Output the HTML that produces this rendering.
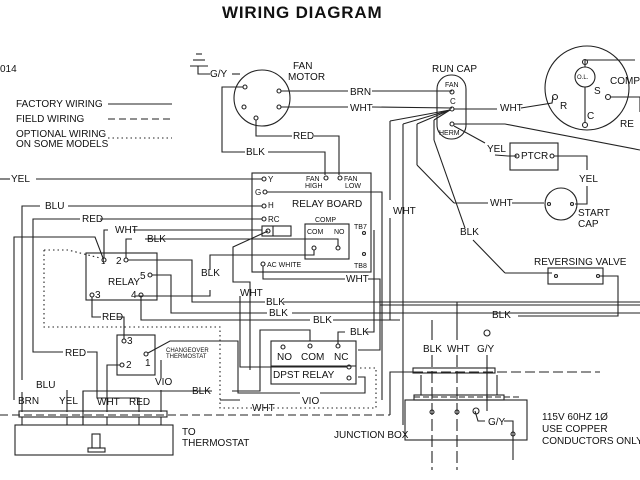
<!DOCTYPE html>
<html><head><meta charset="utf-8"><style>
html,body{margin:0;padding:0;background:#fff;width:640px;height:480px;overflow:hidden}
svg{display:block}
text{font-family:"Liberation Sans",sans-serif;font-size:10px;fill:#111}
</style></head><body>
<svg width="640" height="480" viewBox="0 0 640 480" xmlns="http://www.w3.org/2000/svg">
<g fill="none" stroke="#222" stroke-width="1.1">
<line x1="108" y1="104" x2="172" y2="104"/>
<line x1="108" y1="119" x2="172" y2="119" stroke-dasharray="7,4"/>
<line x1="108" y1="138" x2="172" y2="138" stroke-dasharray="1.5,3"/>
<line x1="196" y1="54" x2="202" y2="54"/><line x1="193" y1="60" x2="205" y2="60"/><line x1="190" y1="66" x2="208" y2="66"/>
<polyline points="198,66 198,74 210,74"/><line x1="232" y1="74" x2="240" y2="74"/>
<circle cx="262" cy="98" r="28"/>
<circle cx="245" cy="87" r="2"/><circle cx="244" cy="107" r="2"/><circle cx="279" cy="91" r="2"/><circle cx="279" cy="107" r="2"/><circle cx="256" cy="118" r="2"/>
<polyline points="243,87 222,87 222,152 245,152"/><polyline points="268,152 325,152 325,175"/>
<polyline points="256,120 256,136 292,136"/><polyline points="314,136 339,136 339,175"/>
<polyline points="281,91 348,91"/><polyline points="372,91 452,91"/>
<polyline points="281,107 348,107"/><polyline points="372,107 452,108"/>
<rect x="437" y="75" width="29" height="64" rx="14"/>
<circle cx="452" cy="92" r="2"/><circle cx="452" cy="109" r="2"/><circle cx="452" cy="124" r="2"/>
<polyline points="454,109 497,109"/><polyline points="521,108 552,103 553,97"/>
<polyline points="454,124 505,124 640,150"/>
<polyline points="454,126 485,143"/><polyline points="495,155 508,156 517,156"/>
<line x1="450" y1="110" x2="390" y2="121"/><line x1="390" y1="121" x2="390" y2="200"/><line x1="390" y1="218" x2="390" y2="320"/>
<line x1="450" y1="110" x2="403" y2="124"/><line x1="403" y1="124" x2="403" y2="425"/>
<line x1="450" y1="110" x2="417" y2="124"/><line x1="417" y1="124" x2="417" y2="165"/><line x1="417" y1="165" x2="454" y2="203"/><line x1="454" y1="203" x2="488" y2="203"/><line x1="512" y1="203" x2="544" y2="203"/>
<line x1="450" y1="110" x2="434" y2="120"/><line x1="434" y1="120" x2="434" y2="140"/><line x1="434" y1="140" x2="465" y2="228"/><line x1="473" y1="240" x2="505" y2="273"/><line x1="505" y1="273" x2="552" y2="273"/>
<circle cx="587" cy="88" r="42"/><circle cx="585" cy="77" r="10"/>
<line x1="585" y1="87" x2="585" y2="123"/><line x1="585" y1="62" x2="585" y2="67"/>
<polyline points="585,62 585,60 635,60"/>
<circle cx="555" cy="97" r="2.5"/><circle cx="585" cy="125" r="2.5"/><circle cx="585" cy="62" r="2.5"/><circle cx="608" cy="97" r="2.5"/>
<polyline points="611,97 640,97 640,112"/>
<rect x="510" y="143" width="48" height="27"/>
<circle cx="517" cy="156" r="2"/><circle cx="552" cy="156" r="2"/>
<polyline points="554,156 587,156 587,170"/><polyline points="587,186 587,204 575,204"/>
<circle cx="561" cy="204" r="16"/><circle cx="549" cy="204" r="1.5"/><circle cx="572" cy="204" r="1.5"/>
<rect x="548" y="268" width="55" height="16"/>
<circle cx="556" cy="276" r="1.5"/><circle cx="598" cy="276" r="1.5"/>
<polyline points="600,276 618,276 618,316 518,316"/>
<line x1="380" y1="305" x2="640" y2="305"/>
<rect x="252" y="173" width="119" height="99"/>
<circle cx="264" cy="179" r="2"/><circle cx="265" cy="192" r="2"/><circle cx="264" cy="206" r="2"/><circle cx="264" cy="219" r="2"/>
<circle cx="326" cy="178" r="2"/><circle cx="340" cy="178" r="2"/>
<rect x="262" y="226" width="29" height="10"/><line x1="273" y1="226" x2="273" y2="236"/><circle cx="268" cy="231" r="2"/>
<rect x="305" y="224" width="44" height="35"/>
<circle cx="314" cy="248" r="2"/><circle cx="338" cy="248" r="2"/>
<polyline points="314,250 314,255 210,255 210,270"/><polyline points="210,290 210,296 135,296"/>
<circle cx="364" cy="233" r="1.5"/><circle cx="364" cy="254" r="1.5"/>
<circle cx="263" cy="264" r="2"/>
<polyline points="263,266 263,279 345,279"/><polyline points="368,279 380,279 380,350 358,350"/>
<polyline points="267,192 382,192 382,400"/>
<polyline points="338,246 338,239 145,239"/>
<polyline points="268,231 233,247 233,282 250,282 250,370"/>
<line x1="0" y1="179" x2="10" y2="179"/><line x1="36" y1="179" x2="262" y2="179"/>
<polyline points="262,206 68,206"/><polyline points="40,206 22,206 22,380"/>
<polyline points="262,219 100,219"/><polyline points="80,219 33,219 33,352 63,352"/><polyline points="87,352 97,352 97,398 139,398 139,412"/>
<polyline points="14,400 14,237 95,237 103,258"/>
<polyline points="104,258 104,230 108,230"/><polyline points="133,230 262,230"/>
<polyline points="126,258 126,239 132,239"/>
<polyline points="67,390 67,412"/><polyline points="22,392 22,412"/>
<rect x="86" y="253" width="71" height="47"/>
<circle cx="104" cy="260" r="2"/><circle cx="126" cy="260" r="2"/><circle cx="150" cy="275" r="2"/><circle cx="92" cy="295" r="2"/><circle cx="141" cy="295" r="2"/>
<polyline points="128,260 192,260 192,302 265,302"/><polyline points="283,302 640,302"/>
<polyline points="152,275 171,275 171,313 267,313"/><polyline points="292,313 640,313"/>
<polyline points="141,297 141,320 310,320"/><polyline points="333,320 400,320"/>
<polyline points="92,297 92,317 101,317"/><polyline points="117,317 124,317 124,339"/>
<rect x="117" y="335" width="38" height="40"/>
<circle cx="124" cy="341" r="2"/><circle cx="122" cy="365" r="2"/><circle cx="146" cy="354" r="2"/>
<polyline points="120,365 107,365 107,412"/>
<polyline points="148,353 170,341 238,341 238,393 300,393"/><polyline points="320,393 365,393 365,377 358,377"/>
<polyline points="161,360 161,378"/><polyline points="161,390 161,412"/>
<polyline points="83,412 83,391 212,391"/><polyline points="232,391 260,391 260,330 310,330 310,341"/>
<polyline points="220,400 240,400"/>
<rect x="271" y="341" width="85" height="43"/>
<circle cx="283" cy="347" r="2"/><circle cx="310" cy="346" r="2"/><circle cx="338" cy="346" r="2"/>
<line x1="271" y1="366" x2="356" y2="366"/>
<circle cx="349" cy="367" r="2"/><circle cx="349" cy="378" r="2"/>
<polyline points="338,344 338,332 345,332"/><polyline points="366,332 374,332 374,230"/>
<polyline points="240,296 240,367 347,367"/>
<polyline points="44,250 68,250 100,258" stroke-dasharray="1.5,3"/>
<polyline points="44,250 44,327 220,327 220,408 376,408 376,368 358,368" stroke-dasharray="1.5,3"/>
<rect x="15" y="425" width="158" height="30"/>
<rect x="19" y="411" width="148" height="6"/>
<line x1="0" y1="415" x2="340" y2="415" stroke-dasharray="8,4"/>
<line x1="22" y1="417" x2="22" y2="425"/><line x1="67" y1="417" x2="67" y2="425"/><line x1="107" y1="417" x2="107" y2="425"/><line x1="139" y1="417" x2="139" y2="425"/><line x1="161" y1="417" x2="161" y2="425"/><line x1="83" y1="417" x2="83" y2="425"/>
<polyline points="83,425 83,391"/>
<rect x="92" y="434" width="8" height="14"/><rect x="88" y="448" width="17" height="4"/>
<polyline points="340,415 390,415" stroke-dasharray="8,4"/>
<polyline points="390,415 390,372 413,372"/>
<rect x="413" y="368" width="82" height="5"/>
<line x1="413" y1="372" x2="600" y2="372" stroke-dasharray="10,4"/>
<line x1="421" y1="375" x2="421" y2="395"/><line x1="497" y1="375" x2="497" y2="395"/>
<rect x="414" y="395" width="90" height="5"/>
<rect x="405" y="400" width="122" height="40"/>
<line x1="414" y1="397" x2="520" y2="397" stroke-dasharray="6,3"/>
<line x1="405" y1="440" x2="527" y2="440" stroke-dasharray="8,4"/>
<line x1="432" y1="320" x2="432" y2="340"/><line x1="432" y1="355" x2="432" y2="470" stroke-dasharray="12,4"/>
<line x1="457" y1="302" x2="457" y2="340"/><line x1="457" y1="355" x2="457" y2="470" stroke-dasharray="12,4"/>
<circle cx="432" cy="412" r="2"/><circle cx="457" cy="412" r="2"/>
<circle cx="487" cy="333" r="3"/><line x1="487" y1="355" x2="487" y2="411" /><polyline points="475,411 478,421 485,421"/>
<circle cx="476" cy="411" r="3"/>
<polyline points="504,421 513,421 513,432 513,460"/><circle cx="513" cy="434" r="2"/>
</g>
<text x="222" y="18" style="font-size:17px;font-weight:bold;letter-spacing:0.8px">WIRING DIAGRAM</text>
<text x="0" y="72">014</text>
<text x="16" y="107">FACTORY WIRING</text>
<text x="16" y="122">FIELD WIRING</text>
<text x="16" y="137">OPTIONAL WIRING</text>
<text x="16" y="147">ON SOME MODELS</text>
<text x="210" y="77">G/Y</text>
<text x="293" y="69">FAN</text><text x="288" y="80">MOTOR</text>
<text x="350" y="95">BRN</text><text x="350" y="111">WHT</text>
<text x="293" y="139">RED</text><text x="246" y="155">BLK</text>
<text x="432" y="72">RUN CAP</text>
<text x="445" y="87" style="font-size:7px">FAN</text><text x="450" y="104" style="font-size:8px">C</text><text x="439" y="135" style="font-size:7px">HERM</text>
<text x="500" y="111">WHT</text><text x="487" y="152">YEL</text>
<text x="521" y="159">PTCR</text>
<text x="579" y="182">YEL</text>
<text x="490" y="206">WHT</text>
<text x="578" y="216">START</text><text x="578" y="227">CAP</text>
<text x="460" y="235">BLK</text>
<text x="393" y="214">WHT</text>
<text x="534" y="265">REVERSING VALVE</text>
<text x="577" y="79" style="font-size:6px">O.L.</text>
<text x="560" y="109">R</text><text x="594" y="94">S</text><text x="587" y="119">C</text>
<text x="610" y="84">COMPRE</text>
<text x="11" y="182">YEL</text>
<text x="45" y="209">BLU</text>
<text x="82" y="222">RED</text>
<text x="115" y="233">WHT</text><text x="147" y="242">BLK</text>
<text x="268" y="182" style="font-size:8px">Y</text><text x="255" y="195" style="font-size:8px">G</text>
<text x="268" y="208" style="font-size:8px">H</text><text x="268" y="222" style="font-size:8px">RC</text>
<text x="306" y="181" style="font-size:7px">FAN</text><text x="305" y="188" style="font-size:7px">HIGH</text>
<text x="344" y="181" style="font-size:7px">FAN</text><text x="345" y="188" style="font-size:7px">LOW</text>
<text x="292" y="207">RELAY BOARD</text>
<text x="315" y="222" style="font-size:7px">COMP</text>
<text x="307" y="234" style="font-size:7px">COM</text><text x="334" y="234" style="font-size:7px">NO</text>
<text x="354" y="229" style="font-size:7px">TB7</text><text x="354" y="268" style="font-size:7px">TB8</text>
<text x="267" y="267" style="font-size:7px">AC WHITE</text>
<text x="346" y="282">WHT</text>
<text x="101" y="264" style="font-size:8px">1</text><text x="116" y="264">2</text>
<text x="108" y="285">RELAY</text><text x="140" y="279">5</text>
<text x="95" y="298">3</text><text x="131" y="298">4</text>
<text x="201" y="276">BLK</text><text x="240" y="296">WHT</text>
<text x="266" y="305">BLK</text><text x="269" y="316">BLK</text><text x="313" y="323">BLK</text><text x="350" y="335">BLK</text>
<text x="102" y="320">RED</text>
<text x="127" y="344">3</text><text x="126" y="368">2</text><text x="145" y="366">1</text>
<text x="166" y="352" style="font-size:6px">CHANGEOVER</text><text x="166" y="358" style="font-size:6px">THERMOSTAT</text>
<text x="155" y="385">VIO</text>
<text x="65" y="356">RED</text>
<text x="192" y="394">BLK</text><text x="302" y="404">VIO</text><text x="252" y="411">WHT</text>
<text x="277" y="360">NO</text><text x="301" y="360">COM</text><text x="334" y="360">NC</text>
<text x="273" y="378">DPST RELAY</text>
<text x="36" y="388">BLU</text>
<text x="18" y="404">BRN</text><text x="59" y="404">YEL</text><text x="97" y="405">WHT</text><text x="129" y="405">RED</text>
<text x="182" y="435">TO</text><text x="182" y="446">THERMOSTAT</text>
<text x="334" y="438">JUNCTION BOX</text>
<text x="423" y="352">BLK</text><text x="447" y="352">WHT</text><text x="477" y="352">G/Y</text>
<text x="488" y="425">G/Y</text>
<text x="542" y="420">115V 60HZ 1Ø</text><text x="542" y="432">USE COPPER</text><text x="542" y="444">CONDUCTORS ONLY</text>
<text x="492" y="318">BLK</text>
<text x="620" y="127">RE</text>
</svg>
</body></html>
